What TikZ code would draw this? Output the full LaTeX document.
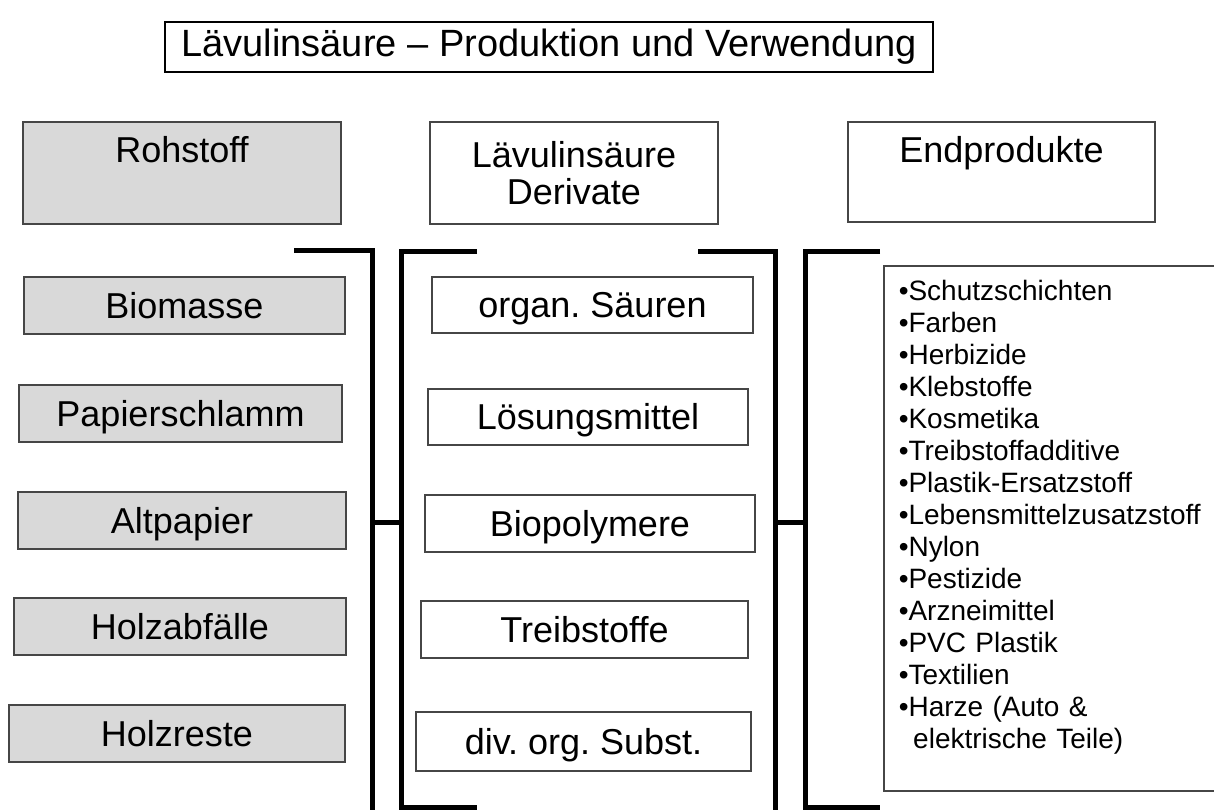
\documentclass[tikz,border=0pt]{standalone}
\usepackage{fontspec}
\setmainfont{Liberation Sans}
\frenchspacing
\definecolor{rawfill}{RGB}{217,217,217}
\definecolor{boxline}{RGB}{70,70,70}
\tikzset{
  titlebox/.style={rectangle, draw=black, line width=1.2pt, fill=white, inner sep=0pt,
              font=\fontsize{38}{40}\selectfont},
  headbox/.style={rectangle, draw=boxline, line width=1.5pt, fill=white, inner sep=0pt,
              align=center, font=\fontsize{36}{37}\selectfont},
  plainbox/.style={headbox, text height=28pt, text depth=3pt},
  rawbox/.style={plainbox, fill=rawfill},
  listbox/.style={rectangle, draw=boxline, line width=1.5pt, fill=white, anchor=north west,
              text width=310pt, align=left, inner xsep=15pt, inner ysep=15pt,
              text height=20pt, text depth=475pt, font=\fontsize{28}{32}\selectfont},
  bar/.style={line width=5pt, draw=black}
}
\newcommand{\itm}[1]{\textbullet#1\\}

\begin{document}
\begin{tikzpicture}[x=1pt, y=-1pt]
\useasboundingbox (0,0) rectangle (1214,809);
\node[titlebox, minimum width=768pt, minimum height=50pt] (title) at (549,47) {Lävulinsäure – Produktion und Verwendung};
\node[headbox, fill=rawfill, minimum width=318pt, text height=40pt, text depth=62pt] (rawhead) at (182,173) {Rohstoff};
\node[headbox, minimum width=288pt, minimum height=102pt] (derhead) at (574,173) {Lävulinsäure\\Derivate};
\node[headbox, minimum width=307pt, text height=40pt, text depth=60pt] (endhead) at (1001.5,172) {Endprodukte};
\node[rawbox, minimum width=321pt, minimum height=57pt] (r1) at (184.5,305.5) {Biomasse};
\node[rawbox, minimum width=323pt, minimum height=57pt] (r2) at (180.5,413.5) {Papierschlamm};
\node[rawbox, minimum width=328pt, minimum height=57pt] (r3) at (182,520.5) {Altpapier};
\node[rawbox, minimum width=332pt, minimum height=57pt] (r4) at (180,626.5) {Holzabfälle};
\node[rawbox, minimum width=336pt, minimum height=57pt] (r5) at (177,733.5) {Holzreste};
\node[plainbox, minimum width=321pt, minimum height=56pt] (d1) at (592.5,305) {organ. Säuren};
\node[plainbox, minimum width=320pt, minimum height=56pt] (d2) at (588,417) {Lösungsmittel};
\node[plainbox, minimum width=330pt, minimum height=57pt] (d3) at (590,523.5) {Biopolymere};
\node[plainbox, minimum width=327pt, minimum height=57pt] (d4) at (584.5,629.5) {Treibstoffe};
\node[plainbox, minimum width=335pt, minimum height=59pt] (d5) at (583.5,741.5) {div. org. Subst.};
\node[listbox] (endlist) at (883,265) {\itm{Schutzschichten}\itm{Farben}\itm{Herbizide}\itm{Klebstoffe}\itm{Kosmetika}\itm{Treibstoffadditive}\itm{Plastik-Ersatzstoff}\itm{Lebensmittelzusatzstoff}\itm{Nylon}\itm{Pestizide}\itm{Arzneimittel}\itm{PVC Plastik}\itm{Textilien}\itm{Harze (Auto \&}\hphantom{\textbullet}\,elektrische Teile)};
\coordinate (sp1) at (372,522);
\coordinate (sp2) at (401,522);
\coordinate (sp3) at (775,522);
\coordinate (sp4) at (805,522);
\draw[bar] (294,250) -- (372,250) -- (372,812) -- (294,812);
\draw[bar] (477,251) -- (401,251) -- (401,807) -- (477,807);
\draw[bar] (698,251) -- (775,251) -- (775,813);
\draw[bar] (880,251) -- (805,251) -- (805,807) -- (880,807);
\draw[bar] (sp1) -- (sp2); \draw[bar] (sp3) -- (sp4);
\end{tikzpicture}
\end{document}
